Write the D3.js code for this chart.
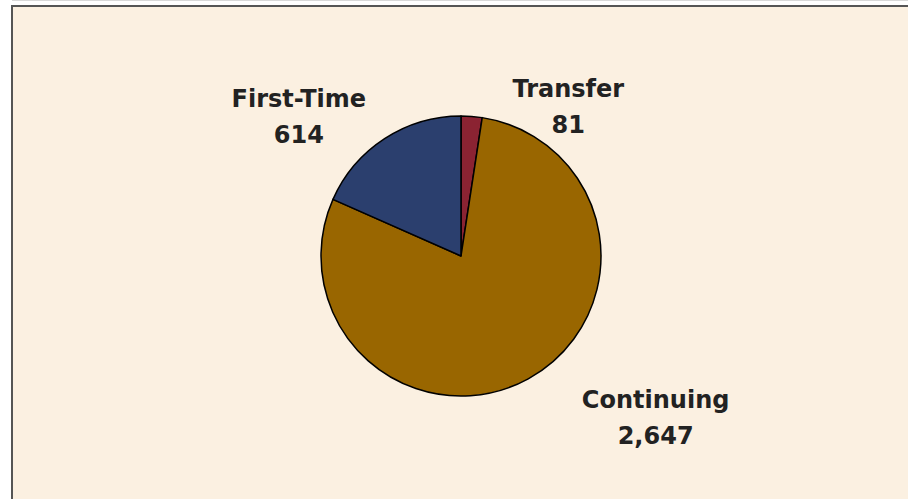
<!DOCTYPE html>
<html>
<head>
<meta charset="utf-8">
<script src="https://cdn.jsdelivr.net/npm/d3@7"></script>
<style>
  html, body { margin: 0; padding: 0; background: #fff; }
  svg { display: block; }
  .label { font-family: 'DejaVu Sans', sans-serif; font-weight: bold; font-size: 24px; fill: #222; }
</style>
</head>
<body>
<svg id="chart"></svg>
<script>
const categories = ['Transfer', 'Continuing', 'First-Time'];
const values = [81, 2647, 614];
const valueLabels = ['81', '2,647', '614'];

const colors = d3.scaleOrdinal()
  .domain(categories)
  .range(['#8B2332', '#996600', '#2B3F6E']);

const width = 908;
const height = 499;
const cx = 461;
const cy = 256;
const radius = 140;

// where each label sits, relative to its slice centroid
const labelShift = {
  'Transfer': [102, -86],
  'Continuing': [161, 94],
  'First-Time': [-124, -87],
};

const svg = d3.select('#chart')
  .attr('width', width)
  .attr('height', height);

svg.append('rect')
  .attr('x', 12).attr('y', 0)
  .attr('width', width).attr('height', 1)
  .attr('fill', '#d9d9d9');

svg.append('rect')
  .attr('x', 12).attr('y', 6)
  .attr('width', width + 10).attr('height', height + 10)
  .attr('fill', '#FBF0E1')
  .attr('stroke', '#555')
  .attr('stroke-width', 2);

const pie = d3.pie().sort(null).value(d => d.value);
const arc = d3.arc().innerRadius(0).outerRadius(radius);

const data = categories.map((c, i) => ({ name: c, value: values[i], label: valueLabels[i] }));

const g = svg.append('g')
  .attr('transform', `translate(${cx},${cy})`);

const slices = g.selectAll('.slice')
  .data(pie(data))
  .enter().append('g')
  .attr('class', 'slice');

slices.append('path')
  .attr('d', arc)
  .attr('fill', d => colors(d.data.name))
  .attr('stroke', '#000')
  .attr('stroke-width', 1.5)
  .attr('stroke-linejoin', 'round');

const labels = slices.append('text')
  .attr('class', 'label')
  .attr('text-anchor', 'middle')
  .attr('transform', d => {
    const [x, y] = arc.centroid(d);
    const s = labelShift[d.data.name];
    return `translate(${x + s[0]},${y + s[1]})`;
  });

labels.append('tspan')
  .attr('x', 0)
  .attr('dy', '-0.15em')
  .text(d => d.data.name);

labels.append('tspan')
  .attr('x', 0)
  .attr('dy', '1.52em')
  .text(d => d.data.label);
</script>
</body>
</html>
